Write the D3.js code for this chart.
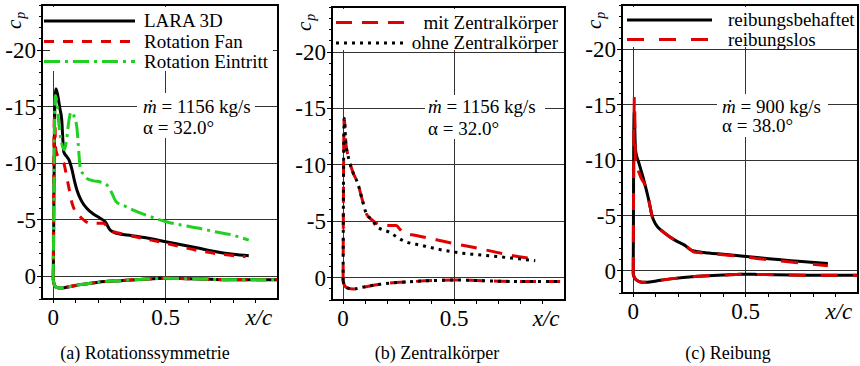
<!DOCTYPE html>
<html><head><meta charset="utf-8">
<script src="https://cdn.jsdelivr.net/npm/d3@7"></script>
<style>
body{margin:0;background:#fff;}
svg{display:block;}
text{font-family:"Liberation Serif","Times New Roman",serif;}
</style></head><body>
<svg id="chart" width="860" height="366"></svg>
<script>
// ---- axis ticks ----
const xTickValues = [0, 0.5];
const xTickLabels = ["0", "0.5"];
const yTickValues = [-20, -15, -10, -5, 0];
const yTickLabels = ["-20", "-15", "-10", "-5", "0"];
const captions = ["(a) Rotationssymmetrie", "(b) Zentralkörper", "(c) Reibung"];
const massFlow = ["1156 kg/s", "1156 kg/s", "900 kg/s"];
const alphaDeg = ["32.0°", "32.0°", "38.0°"];

// ---- (a) Rotationssymmetrie ----
const aLegend = ["LARA 3D", "Rotation Fan", "Rotation Eintritt"];
const aLaraX  = [0, 0.002, 0.005, 0.008, 0.012, 0.02, 0.03, 0.038, 0.043, 0.047, 0.06, 0.07, 0.084, 0.095, 0.106, 0.125, 0.15, 0.18, 0.21, 0.231, 0.253, 0.282, 0.35, 0.43, 0.5, 0.57, 0.65, 0.72, 0.8, 0.87];
const aLaraCp = [0.3, -4.0, -12.0, -15.8, -16.6, -16.0, -14.8, -13.8, -12.0, -11.0, -10.6, -10.3, -9.4, -8.4, -7.6, -6.7, -6.0, -5.5, -5.13, -4.83, -4.1, -3.8, -3.6, -3.35, -3.07, -2.8, -2.48, -2.2, -1.95, -1.82];
const aFanX   = [0, 0.001, 0.003, 0.005, 0.008, 0.01, 0.015, 0.025, 0.047, 0.06, 0.069, 0.084, 0.1, 0.12, 0.165, 0.223, 0.245, 0.267, 0.3, 0.4, 0.503, 0.57, 0.65, 0.75, 0.856];
const aFanCp  = [0.3, -5.0, -12.0, -14.0, -13.5, -11.5, -10.9, -10.55, -10.0, -8.8, -7.9, -6.45, -5.7, -5.27, -4.69, -4.69, -4.3, -3.95, -3.8, -3.35, -2.92, -2.6, -2.27, -1.95, -1.75];
const aInletX = [0, 0.002, 0.005, 0.01, 0.015, 0.025, 0.035, 0.05, 0.06, 0.07, 0.078, 0.086, 0.095, 0.105, 0.112, 0.12, 0.135, 0.15, 0.18, 0.21, 0.24, 0.26, 0.28, 0.32, 0.356, 0.43, 0.503, 0.58, 0.65, 0.72, 0.797, 0.87];
const aInletCp= [0.3, -5.0, -13.0, -16.0, -15.6, -13.5, -12.0, -11.2, -12.2, -13.8, -14.5, -14.5, -14.0, -13.2, -11.5, -9.6, -9.0, -8.65, -8.45, -8.35, -8.06, -7.4, -6.6, -6.2, -5.86, -5.3, -4.83, -4.5, -4.25, -3.95, -3.66, -3.2];
const aLowerX = [0, 0.004, 0.01, 0.02, 0.03, 0.05, 0.08, 0.1, 0.15, 0.2, 0.3, 0.4, 0.5, 0.6, 0.7, 0.8, 0.9, 1.0];
const aLowerCp= [0.3, 0.7, 0.92, 1.0, 1.03, 1.0, 0.88, 0.8, 0.66, 0.52, 0.38, 0.25, 0.17, 0.2, 0.26, 0.3, 0.3, 0.3];

// ---- (b) Zentralkörper ----
const bLegend = ["mit Zentralkörper", "ohne Zentralkörper"];
const bWithX  = [0, 0.001, 0.003, 0.005, 0.008, 0.012, 0.02, 0.03, 0.045, 0.067, 0.085, 0.105, 0.134, 0.16, 0.18, 0.24, 0.255, 0.27, 0.33, 0.42, 0.508, 0.58, 0.657, 0.76, 0.866];
const bWithCp = [0.3, -5.0, -12.0, -14.1, -13.5, -12.0, -11.0, -10.2, -9.3, -8.3, -7.0, -5.65, -5.05, -4.7, -4.6, -4.6, -4.3, -4.0, -3.72, -3.35, -2.98, -2.7, -2.38, -1.95, -1.64];
const bWithoutX  = [0, 0.001, 0.003, 0.005, 0.008, 0.012, 0.02, 0.03, 0.045, 0.067, 0.085, 0.105, 0.134, 0.15, 0.21, 0.27, 0.358, 0.43, 0.508, 0.58, 0.657, 0.76, 0.866];
const bWithoutCp = [0.3, -5.0, -12.0, -14.1, -13.5, -12.0, -11.0, -10.2, -9.3, -8.3, -7.0, -5.65, -5.05, -4.55, -4.0, -3.27, -2.83, -2.5, -2.23, -2.07, -1.93, -1.72, -1.49];
const bLowerX  = [0, 0.004, 0.01, 0.022, 0.045, 0.08, 0.12, 0.21, 0.3, 0.4, 0.508, 0.6, 0.7, 0.806, 0.9, 0.978];
const bLowerCp = [0.3, 0.6, 0.8, 0.95, 1.03, 0.9, 0.75, 0.5, 0.38, 0.28, 0.23, 0.27, 0.33, 0.36, 0.36, 0.36];

// ---- (c) Reibung ----
const cLegend = ["reibungsbehaftet", "reibungslos"];
const cViscX  = [0, 0.001, 0.002, 0.004, 0.006, 0.008, 0.01, 0.025, 0.04, 0.054, 0.07, 0.084, 0.1, 0.128, 0.16, 0.187, 0.23, 0.26, 0.29, 0.335, 0.4, 0.48, 0.55, 0.63, 0.7, 0.777, 0.866];
const cViscCp = [0.3, -5.0, -11.0, -14.3, -13.5, -12.0, -10.9, -9.74, -8.7, -7.64, -6.3, -4.94, -4.2, -3.6, -3.1, -2.75, -2.3, -1.85, -1.72, -1.62, -1.5, -1.35, -1.2, -1.05, -0.92, -0.8, -0.66];
const cInviscX  = [0, 0.001, 0.003, 0.005, 0.007, 0.009, 0.012, 0.018, 0.025, 0.035, 0.054, 0.07, 0.084, 0.1, 0.128, 0.16, 0.187, 0.23, 0.25, 0.27, 0.29, 0.335, 0.4, 0.48, 0.55, 0.63, 0.7, 0.777, 0.866];
const cInviscCp = [0.3, -5.0, -12.0, -15.7, -14.0, -10.5, -9.1, -9.3, -8.9, -8.4, -7.64, -6.3, -4.94, -4.2, -3.6, -3.1, -2.75, -2.3, -2.0, -1.7, -1.65, -1.58, -1.45, -1.3, -1.12, -0.95, -0.8, -0.65, -0.45];
const cLowerX  = [0, 0.003, 0.01, 0.025, 0.04, 0.054, 0.08, 0.12, 0.187, 0.25, 0.335, 0.4, 0.48, 0.55, 0.63, 0.7, 0.777, 0.9, 1.0];
const cLowerCp = [0.3, 0.5, 0.75, 0.95, 1.03, 1.04, 0.98, 0.85, 0.68, 0.55, 0.45, 0.38, 0.3, 0.32, 0.36, 0.38, 0.39, 0.39, 0.39];

// ---- line styles ----
const RED = "#e00000", GREEN = "#22d022", BLACK = "#000";

const zip = (xs, ys) => xs.map((x, i) => [x, ys[i]]);

const panels = [
  {
    box: {left: 42, right: 278, top: 5, bottom: 299},
    legendBox: {x0: 50, x1: 273, y0: 7, y1: 71},
    legend: {sx0: 44, sx1: 135, tx: 144, anchor: "start", rows: [21, 41.5, 61.5]},
    annot: {x: 143, y1: 113, y2: 134, bx0: 137, bx1: 255, by0: 93, by1: 138},
    series: [
      {name: aLegend[0], upper: zip(aLaraX, aLaraCp), lower: zip(aLowerX, aLowerCp), color: BLACK, dash: null},
      {name: aLegend[1], upper: zip(aFanX, aFanCp), lower: zip(aLowerX, aLowerCp), color: RED, dash: "10,9"},
      {name: aLegend[2], upper: zip(aInletX, aInletCp), lower: zip(aLowerX, aLowerCp), color: GREEN, dash: "16,5,3,5"}
    ]
  },
  {
    box: {left: 332, right: 565, top: 7, bottom: 300},
    legendBox: {x0: 334, x1: 563, y0: 9, y1: 50},
    legend: {sx0: 336, sx1: 405, tx: 558, anchor: "end", rows: [22.5, 43]},
    annot: {x: 428, y1: 113, y2: 135, bx0: 425, bx1: 545, by0: 95, by1: 139},
    series: [
      {name: bLegend[0], upper: zip(bWithX, bWithCp), lower: zip(bLowerX, bLowerCp), color: RED, dash: "16,10"},
      {name: bLegend[1], upper: zip(bWithoutX, bWithoutCp), lower: zip(bLowerX, bLowerCp), color: BLACK, dash: "3,5"}
    ]
  },
  {
    box: {left: 622, right: 858, top: 5, bottom: 293},
    legendBox: {x0: 624, x1: 856, y0: 7, y1: 47},
    legend: {sx0: 627, sx1: 712, tx: 728, anchor: "start", rows: [20, 39.5]},
    annot: {x: 722, y1: 113, y2: 132, bx0: 717, bx1: 828, by0: 94, by1: 137},
    series: [
      {name: cLegend[0], upper: zip(cViscX, cViscCp), lower: zip(cLowerX, cLowerCp), color: BLACK, dash: null},
      {name: cLegend[1], upper: zip(cInviscX, cInviscCp), lower: zip(cLowerX, cLowerCp), color: RED, dash: "17,15"}
    ]
  }
];
const captionCenters = [145, 437, 728];

const svg = d3.select("#chart");

panels.forEach((p, pi) => {
  const b = p.box;
  const x = d3.scaleLinear().domain([-0.05, 1.0]).range([b.left, b.right]);
  const y = d3.scaleLinear().domain([-24, 2]).range([b.top, b.bottom]);
  const g = svg.append("g");

  const clipId = "clip" + pi;
  svg.append("clipPath").attr("id", clipId)
    .append("rect").attr("x", b.left).attr("y", b.top)
    .attr("width", b.right - b.left).attr("height", b.bottom - b.top);

  // grid
  const grid = g.append("g").attr("stroke", "#333").attr("stroke-width", 1).attr("shape-rendering", "crispEdges");
  yTickValues.forEach(v => grid.append("line").attr("x1", b.left).attr("x2", b.right).attr("y1", y(v)).attr("y2", y(v)));
  [0, 0.5].forEach(v => grid.append("line").attr("x1", x(v)).attr("x2", x(v)).attr("y1", b.top).attr("y2", b.bottom));

  // white boxes behind legend and annotation
  g.append("rect").attr("x", p.legendBox.x0).attr("y", p.legendBox.y0)
    .attr("width", p.legendBox.x1 - p.legendBox.x0).attr("height", p.legendBox.y1 - p.legendBox.y0).attr("fill", "#fff");
  g.append("rect").attr("x", p.annot.bx0).attr("y", p.annot.by0)
    .attr("width", p.annot.bx1 - p.annot.bx0).attr("height", p.annot.by1 - p.annot.by0).attr("fill", "#fff");

  // curves
  const line = d3.line().x(d => x(d[0])).y(d => y(d[1])).curve(d3.curveMonotoneX);
  const curves = g.append("g").attr("clip-path", `url(#${clipId})`);
  p.series.forEach(s => {
    [s.lower, s.upper].forEach(pts => {
      curves.append("path").attr("d", line(pts)).attr("fill", "none")
        .attr("stroke", s.color).attr("stroke-width", 3)
        .attr("stroke-dasharray", s.dash).attr("stroke-linejoin", "round");
    });
  });

  // frame
  g.append("rect").attr("x", b.left).attr("y", b.top).attr("width", b.right - b.left).attr("height", b.bottom - b.top)
    .attr("fill", "none").attr("stroke", "#000").attr("stroke-width", 1.5).attr("shape-rendering", "crispEdges");

  // ticks
  const ticks = g.append("g").attr("stroke", "#000").attr("stroke-width", 1).attr("shape-rendering", "crispEdges");
  d3.range(-24, 3).forEach(v => {
    const len = v % 5 === 0 ? 5 : 3.5;
    ticks.append("line").attr("x1", b.left - len).attr("x2", b.left).attr("y1", y(v)).attr("y2", y(v));
  });
  d3.range(0, 10).forEach(i => {
    const v = i / 10;
    ticks.append("line").attr("x1", x(v)).attr("x2", x(v)).attr("y1", b.bottom).attr("y2", b.bottom + 4);
  });

  // tick labels
  yTickValues.forEach((v, i) => {
    g.append("text").attr("x", b.left - 6).attr("y", y(v)).attr("dy", "0.35em")
      .attr("text-anchor", "end").attr("font-size", 23).text(yTickLabels[i]);
  });
  xTickValues.forEach((v, i) => {
    g.append("text").attr("x", x(v)).attr("y", b.bottom + 26)
      .attr("text-anchor", "middle").attr("font-size", 23).text(xTickLabels[i]);
  });
  g.append("text").attr("x", x(0.915)).attr("y", b.bottom + 26).attr("text-anchor", "middle")
    .attr("font-size", 23).attr("font-style", "italic").text("x/c");

  // c_p label
  const cp = g.append("text").attr("transform", `translate(${b.left - 21},${b.top + 24}) rotate(-90)`)
    .attr("font-size", 21).attr("font-style", "italic");
  cp.append("tspan").text("c");
  cp.append("tspan").attr("font-size", 14).attr("dy", 4).attr("dx", 1).text("p");

  // legend
  p.series.forEach((s, i) => {
    const ry = p.legend.rows[i];
    g.append("line").attr("x1", p.legend.sx0).attr("x2", p.legend.sx1).attr("y1", ry).attr("y2", ry)
      .attr("stroke", s.color).attr("stroke-width", 3.2).attr("stroke-dasharray", s.dash);
    g.append("text").attr("x", p.legend.tx).attr("y", ry).attr("dy", "0.33em")
      .attr("text-anchor", p.legend.anchor).attr("font-size", 19).text(s.name);
  });

  // operating point annotation
  const t1 = g.append("text").attr("x", p.annot.x).attr("y", p.annot.y1).attr("font-size", 19);
  t1.append("tspan").attr("font-style", "italic").text("ṁ");
  t1.append("tspan").text(" = " + massFlow[pi]);
  g.append("text").attr("x", p.annot.x).attr("y", p.annot.y2).attr("font-size", 19).text("α = " + alphaDeg[pi]);

  // caption
  svg.append("text").attr("x", captionCenters[pi]).attr("y", 359).attr("text-anchor", "middle")
    .attr("font-size", 18).text(captions[pi]);
});
</script>
</body></html>
